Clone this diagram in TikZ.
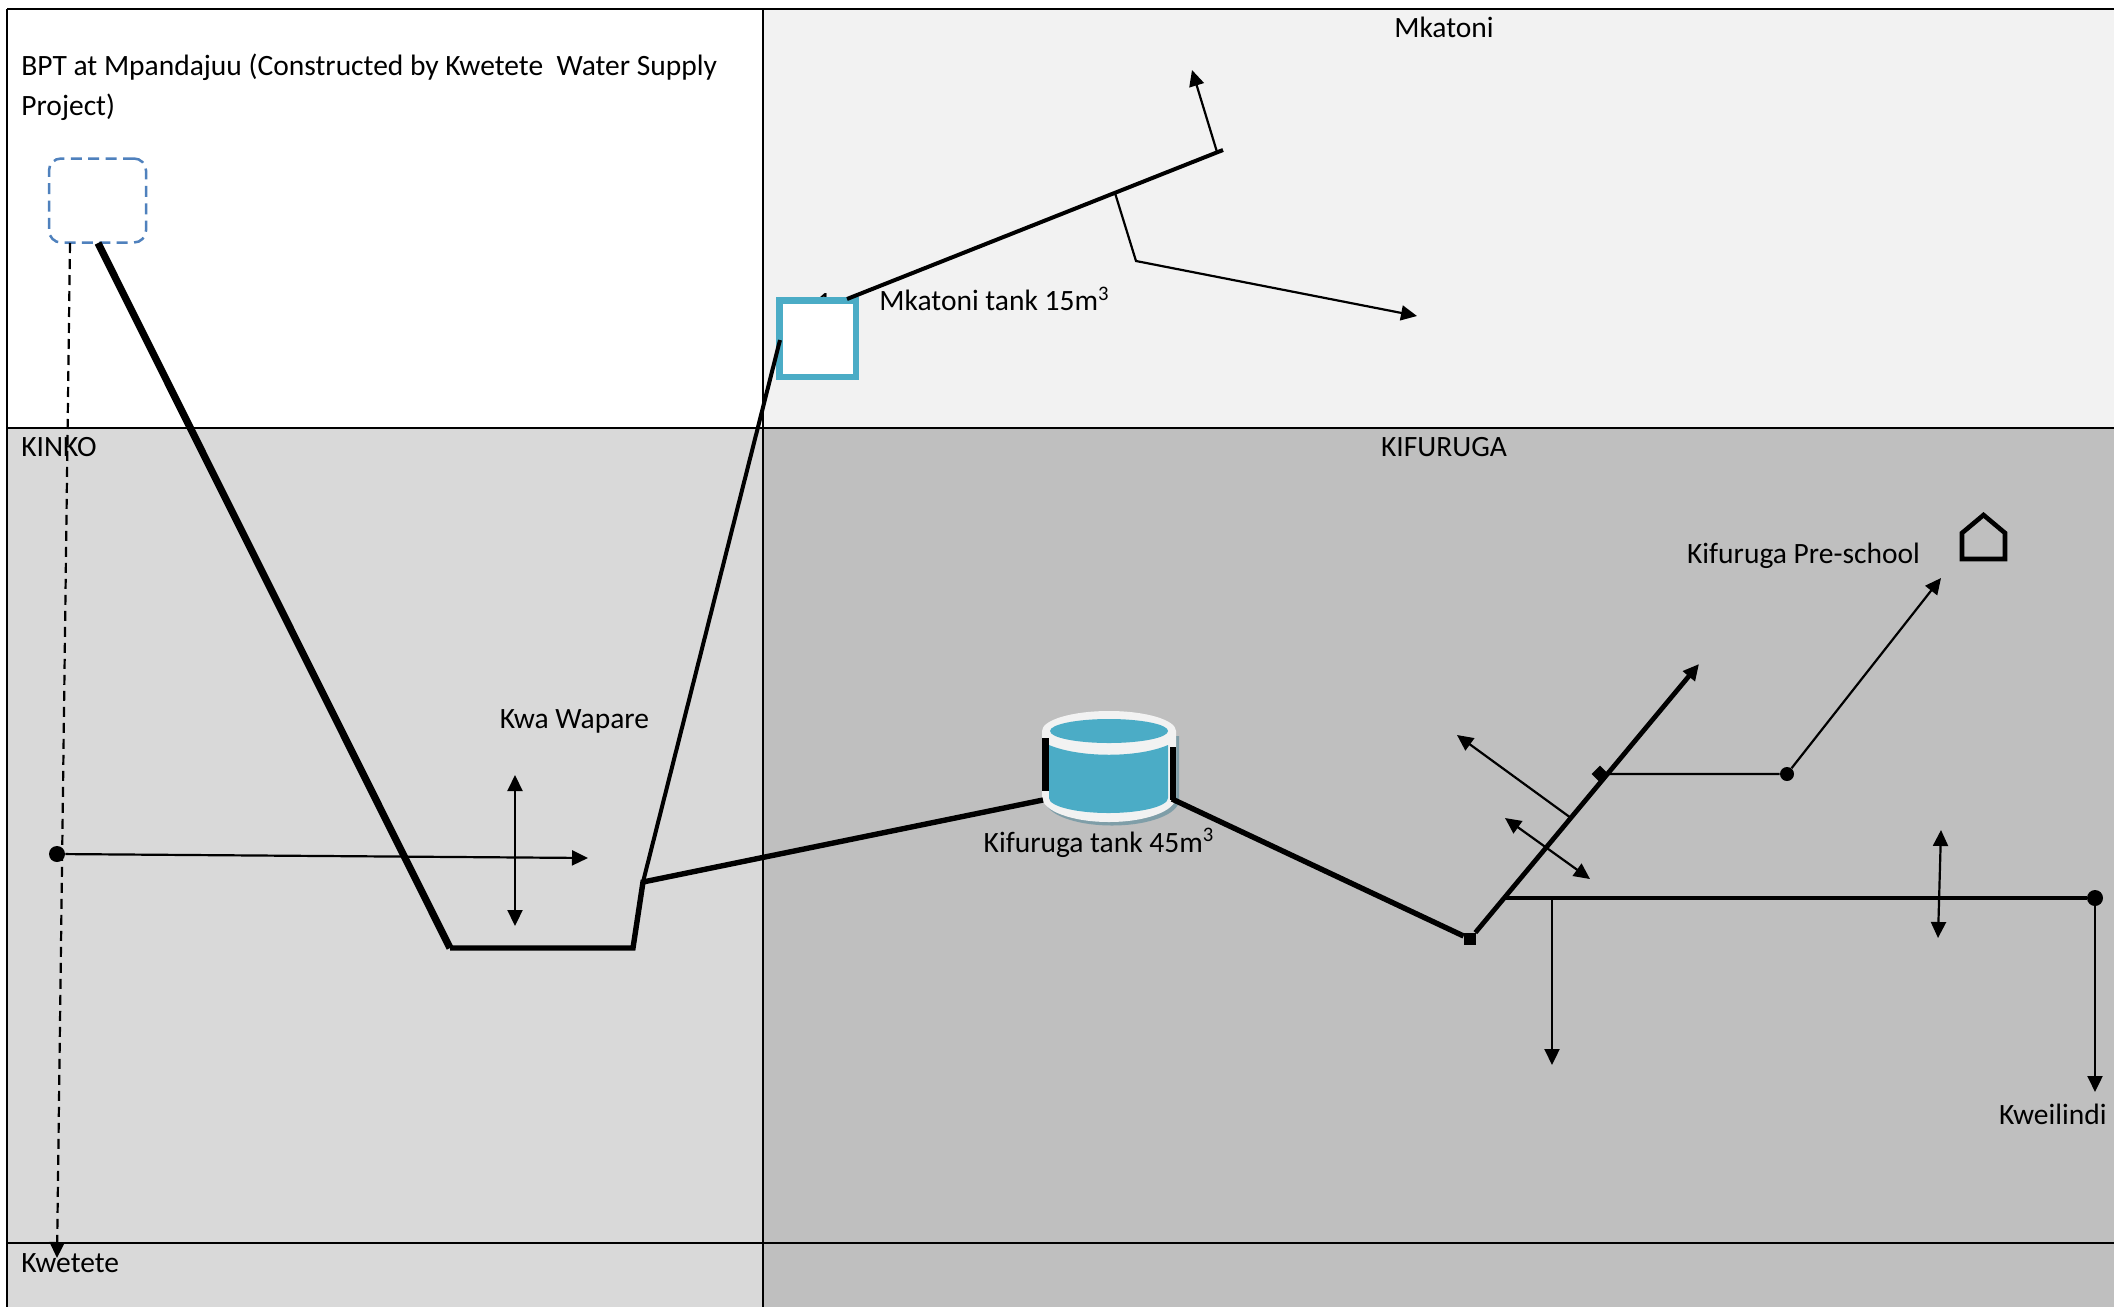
\documentclass[tikz,border=0pt]{standalone}
\usepackage{fontspec}
\setmainfont{Carlito}
\usetikzlibrary{arrows.meta}
\definecolor{tankblue}{HTML}{4BACC6}
\definecolor{rimwhite}{HTML}{F2F2F2}
\definecolor{tankshadow}{HTML}{7F9EA8}
\definecolor{bptblue}{HTML}{4F81BD}
\definecolor{midgrey}{HTML}{D9D9D9}
\definecolor{darkgrey}{HTML}{BFBFBF}
\tikzset{
  lbl/.style={inner sep=0pt,font=\fontsize{14.75}{20}\selectfont,text=black},
  heavy/.style={draw=black,line width=3.6pt,line cap=butt},
  main/.style={draw=black,line width=2.7pt},
  rising/.style={draw=black,line width=2.4pt},
  level/.style={draw=black,line width=2.1pt},
  pipe/.style={draw=black,line width=2pt},
  thin pipe/.style={draw=black,line width=1.1pt},
  tip/.style={-{Triangle[length=8pt,width=7.5pt]}},
  both tips/.style={{Triangle[length=8pt,width=7.5pt]}-{Triangle[length=8pt,width=7.5pt]}},
  gridline/.style={draw=black,line width=1pt},
  dot/.style={circle,fill=black,inner sep=0pt,minimum size=8pt},
  jointsq/.style={rectangle,fill=black,inner sep=0pt,minimum size=5.5pt},
}
\begin{document}
\begin{tikzpicture}[x=0.5pt,y=-0.5pt]
\useasboundingbox (0,0) rectangle (2114,1307);
% area fills
\fill[white] (0,0) rectangle (2114,1307);
\fill[rimwhite] (763,9) rectangle (2114,428);
\fill[midgrey] (7,428) rectangle (763,1307);
\fill[darkgrey] (763,428) rectangle (2114,1307);
% grid
\draw[gridline] (7,9) -- (2114,9);
\draw[gridline] (7,428) -- (2114,428);
\draw[gridline] (7,1243) -- (2114,1243);
\draw[gridline] (7,9) -- (7,1307);
\draw[gridline] (763,9) -- (763,1307);
% labels
\node[lbl,anchor=center] (lMk) at (1444,27) {Mkatoni};
\node[lbl,anchor=center] (lKif) at (1444,447) {KIFURUGA};
\node[lbl,anchor=west] (lKin) at (21,447) {KINKO};
\node[lbl,anchor=west] (lKwe) at (21,1263) {Kwetete};
\node[lbl,anchor=north west,align=left] (lBpt) at (21,54) {BPT at Mpandajuu (Constructed by Kwetete\ \ Water Supply\\Project)};
\node[lbl,anchor=center] (lWap) at (574.5,721.5) {Kwa Wapare};
\node[lbl,anchor=center] (lTk2) at (1099,843) {Kifuruga tank 45m\textsuperscript{3}};
\node[lbl,anchor=west] (lTk1) at (879,299) {Mkatoni tank 15m\textsuperscript{3}};
\node[lbl,anchor=center] (lPre) at (1803.5,556) {Kifuruga Pre-school};
\node[lbl,anchor=east] (lKwl) at (2107,1114) {Kweilindi};
\node[lbl,anchor=center] (lOne) at (824,303) {1};
% BPT box
\node[draw=bptblue,line width=1.25pt,dash pattern=on 5.5pt off 3.2pt,rounded corners=6pt,inner sep=0pt,minimum width=48.5pt,minimum height=42pt] (bpt) at (97.5,200.5) {};
% Mkatoni tank
\node[draw=tankblue,fill=white,line width=3.2pt,inner sep=0pt,minimum width=38.2pt,minimum height=38.2pt] (mk) at (817.5,338.5) {};
% coordinates
\coordinate (bptA) at (98,243);
\coordinate (bptD) at (70,243);
\coordinate (dashEnd) at (57,1258);
\coordinate (v1) at (450,948);
\coordinate (v2) at (633,948);
\coordinate (v3) at (643,882);
\coordinate (mkIn) at (780,340);
\coordinate (mkOut) at (847,299);
\coordinate (mkEnd) at (1223,150);
\coordinate (brUpA) at (1217,152);
\coordinate (brUpB) at (1192,70);
\coordinate (brA) at (1115,193);
\coordinate (brB) at (1136,261);
\coordinate (brC) at (1417,316);
\coordinate (wapA) at (515,775);
\coordinate (wapB) at (515,926);
\coordinate (wEnd) at (588,858);
\coordinate (tkIn) at (1043,800);
\coordinate (tkOut) at (1172,799);
\coordinate (upEnd) at (1699,664);
\coordinate (brNw1) at (1571,818);
\coordinate (brNw2) at (1457,735);
\coordinate (dblA) at (1505,818);
\coordinate (dblB) at (1590,879);
\coordinate (hStart) at (1506,898);
\coordinate (hDown) at (1552,898);
\coordinate (hDownEnd) at (1552,1065);
\coordinate (dbl2A) at (1941,830);
\coordinate (dbl2B) at (1938,938);
\coordinate (preEnd) at (1941,578);
\coordinate (kwlEnd) at (2095,1092);
% joints
\node[dot,minimum size=8pt] (wDot) at (57,854) {};
\node[jointsq,minimum size=6pt] (j1) at (1470,939) {};
\node[jointsq,rotate=45,minimum size=6pt] (j2) at (1600,774) {};
\node[dot,minimum size=7pt] (j3) at (1787,774) {};
\node[dot,minimum size=8pt] (j4) at (2095,898) {};
% tank 45
\begin{scope}
\fill[tankshadow] (1045,736) -- (1179,736) -- (1179,800) arc[start angle=0,end angle=180,x radius=67,y radius=25.5] -- cycle;
\fill[rimwhite] (1042,731) -- (1176,731) -- (1176,797) arc[start angle=0,end angle=180,x radius=67,y radius=25] -- cycle;
\fill[rimwhite] (1109,731) ellipse[x radius=67,y radius=20];
\fill[tankblue] (1049,745) .. controls (1080,758) and (1138,758) .. (1168,745) -- (1168,798) arc[start angle=0,end angle=180,x radius=59.5,y radius=15] -- cycle;
\fill[tankblue] (1109,731) ellipse[x radius=59,y radius=12];
\fill[black] (1042,738) rectangle (1049,791);
\fill[black] (1170,747) rectangle (1176,800);
\node[inner sep=0pt,minimum size=1pt] (tank) at (1109,765) {};
\end{scope}
% pipes
\draw[heavy] (bptA) -- (v1);
\draw[main] (v1) -- (v2) -- (v3) -- (tkIn);
\draw[pipe] (v3) -- (mkIn);
\draw[pipe] (mkOut) -- (mkEnd);
\draw[thin pipe,tip] (brUpA) -- (brUpB);
\draw[thin pipe,tip] (brA) -- (brB) -- (brC);
\draw[thin pipe,dash pattern=on 5pt off 3pt,tip] (bptD) -- (dashEnd);
\draw[thin pipe,tip] (wDot) -- (wEnd);
\draw[thin pipe,both tips] (wapA) -- (wapB);
\draw[main] (tkOut) -- (j1);
\draw[rising,tip] (j1) -- (upEnd);
\draw[thin pipe,tip] (brNw1) -- (brNw2);
\draw[thin pipe,both tips] (dblA) -- (dblB);
\draw[thin pipe] (j2) -- (j3);
\draw[thin pipe,tip] (j3) -- (preEnd);
\draw[level] (hStart) -- (j4);
\draw[thin pipe,tip] (hDown) -- (hDownEnd);
\draw[thin pipe,both tips] (dbl2A) -- (dbl2B);
\draw[thin pipe,tip] (j4) -- (kwlEnd);
% house
\draw[draw=black,line width=2.3pt,line join=miter] (1962,559) -- (1962,533) -- (1983.5,515) -- (2005,533) -- (2005,559) -- cycle;
\end{tikzpicture}
\end{document}
